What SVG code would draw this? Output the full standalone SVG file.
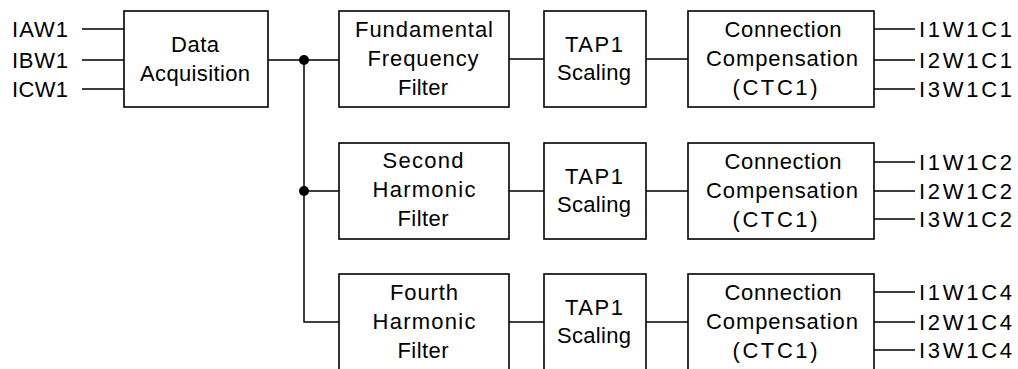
<svg xmlns="http://www.w3.org/2000/svg" width="1018" height="369" viewBox="0 0 1018 369">
<style>
.box{fill:#fff;stroke:#000;stroke-width:1.6}
.ln{fill:none;stroke:#000;stroke-width:1.5}
text{font-family:"Liberation Sans",Arial,sans-serif;font-size:22px;fill:#000}
.c{text-anchor:middle}
</style>
<rect width="1018" height="369" fill="#fff"/>
<g id="connectors">
<path class="ln" d="M82 29H124M82 60H124M82 89H124"/>
<path class="ln" d="M268 60H339M304 60V322H339M304 191H339"/>
<path class="ln" d="M509 59H544M646 59H688M509 191H544M646 191H688M509 322H544M646 322H688"/>
<path class="ln" d="M874 29H915M874 60H915M874 89H915"/>
<path class="ln" d="M874 162H915M874 191H915M874 219H915"/>
<path class="ln" d="M874 292H915M874 322H915M874 350H915"/>
<circle cx="304" cy="60" r="5" fill="#000"/>
<circle cx="304" cy="191" r="5" fill="#000"/>
</g>
<g id="inputs">
<text x="12" y="37" textLength="56" lengthAdjust="spacing">IAW1</text>
<text x="12" y="68" textLength="56" lengthAdjust="spacing">IBW1</text>
<text x="12" y="97" textLength="56" lengthAdjust="spacing">ICW1</text>
</g>
<g id="data-acquisition">
<rect class="box" x="124" y="11" width="144" height="96"/>
<text class="c" x="195" y="52" textLength="48" lengthAdjust="spacing">Data</text>
<text class="c" x="195" y="81" textLength="110" lengthAdjust="spacing">Acquisition</text>
</g>
<g id="fundamental-filter">
<rect class="box" x="339" y="11" width="170" height="96"/>
<text class="c" x="424" y="37" textLength="138" lengthAdjust="spacing">Fundamental</text>
<text class="c" x="423" y="66" textLength="111" lengthAdjust="spacing">Frequency</text>
<text class="c" x="423" y="95" textLength="50" lengthAdjust="spacing">Filter</text>
</g>
<g id="tap1-row1">
<rect class="box" x="544" y="11" width="102" height="96"/>
<text class="c" x="594" y="52" textLength="58" lengthAdjust="spacing">TAP1</text>
<text class="c" x="594" y="80" textLength="74" lengthAdjust="spacing">Scaling</text>
</g>
<g id="ctc1-row1">
<rect class="box" x="688" y="11" width="186" height="96"/>
<text class="c" x="783" y="37" textLength="117" lengthAdjust="spacing">Connection</text>
<text class="c" x="782" y="66" textLength="152" lengthAdjust="spacing">Compensation</text>
<text class="c" x="775" y="95" textLength="85" lengthAdjust="spacing">(CTC1)</text>
</g>
<g id="outputs-row1">
<text x="919" y="37" textLength="93" lengthAdjust="spacing">I1W1C1</text>
<text x="919" y="68" textLength="93" lengthAdjust="spacing">I2W1C1</text>
<text x="919" y="97" textLength="93" lengthAdjust="spacing">I3W1C1</text>
</g>
<g id="second-harmonic-filter">
<rect class="box" x="339" y="143" width="170" height="96"/>
<text class="c" x="423" y="168" textLength="81" lengthAdjust="spacing">Second</text>
<text class="c" x="424" y="197" textLength="103" lengthAdjust="spacing">Harmonic</text>
<text class="c" x="423" y="226" textLength="51" lengthAdjust="spacing">Filter</text>
</g>
<g id="tap1-row2">
<rect class="box" x="544" y="143" width="102" height="96"/>
<text class="c" x="594" y="184" textLength="58" lengthAdjust="spacing">TAP1</text>
<text class="c" x="594" y="212" textLength="74" lengthAdjust="spacing">Scaling</text>
</g>
<g id="ctc1-row2">
<rect class="box" x="688" y="143" width="186" height="96"/>
<text class="c" x="783" y="169" textLength="117" lengthAdjust="spacing">Connection</text>
<text class="c" x="782" y="198" textLength="152" lengthAdjust="spacing">Compensation</text>
<text class="c" x="775" y="227" textLength="85" lengthAdjust="spacing">(CTC1)</text>
</g>
<g id="outputs-row2">
<text x="919" y="170" textLength="93" lengthAdjust="spacing">I1W1C2</text>
<text x="919" y="199" textLength="93" lengthAdjust="spacing">I2W1C2</text>
<text x="919" y="227" textLength="93" lengthAdjust="spacing">I3W1C2</text>
</g>
<g id="fourth-harmonic-filter">
<rect class="box" x="339" y="274" width="170" height="96"/>
<text class="c" x="424" y="300" textLength="68" lengthAdjust="spacing">Fourth</text>
<text class="c" x="424" y="329" textLength="103" lengthAdjust="spacing">Harmonic</text>
<text class="c" x="423" y="358" textLength="51" lengthAdjust="spacing">Filter</text>
</g>
<g id="tap1-row3">
<rect class="box" x="544" y="274" width="102" height="96"/>
<text class="c" x="594" y="315" textLength="58" lengthAdjust="spacing">TAP1</text>
<text class="c" x="594" y="343" textLength="74" lengthAdjust="spacing">Scaling</text>
</g>
<g id="ctc1-row3">
<rect class="box" x="688" y="274" width="186" height="96"/>
<text class="c" x="783" y="300" textLength="117" lengthAdjust="spacing">Connection</text>
<text class="c" x="782" y="329" textLength="152" lengthAdjust="spacing">Compensation</text>
<text class="c" x="775" y="358" textLength="85" lengthAdjust="spacing">(CTC1)</text>
</g>
<g id="outputs-row3">
<text x="919" y="300" textLength="93" lengthAdjust="spacing">I1W1C4</text>
<text x="919" y="330" textLength="93" lengthAdjust="spacing">I2W1C4</text>
<text x="919" y="358" textLength="93" lengthAdjust="spacing">I3W1C4</text>
</g>
</svg>
